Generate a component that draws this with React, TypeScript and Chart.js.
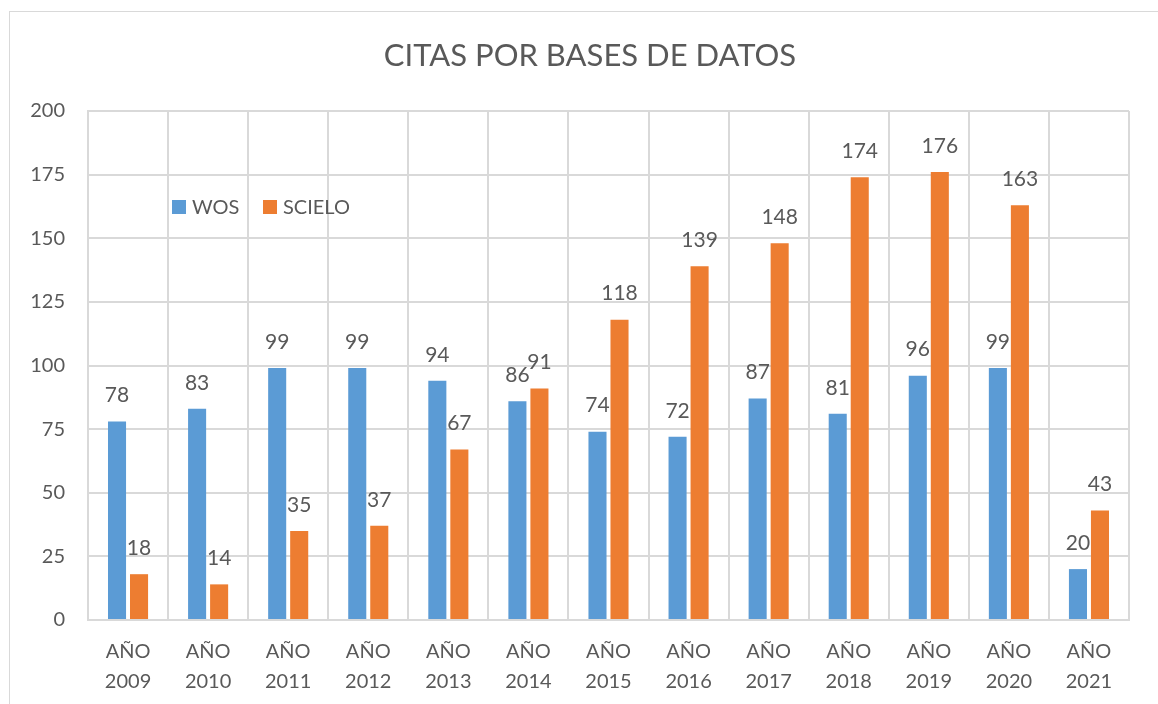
import React, { useEffect, useRef } from "react";
import { Chart, registerables } from "chart.js";

Chart.register(...registerables);

const categories = [
  ["AÑO", "2009"], ["AÑO", "2010"], ["AÑO", "2011"], ["AÑO", "2012"], ["AÑO", "2013"],
  ["AÑO", "2014"], ["AÑO", "2015"], ["AÑO", "2016"], ["AÑO", "2017"], ["AÑO", "2018"],
  ["AÑO", "2019"], ["AÑO", "2020"], ["AÑO", "2021"],
];
const wos = [78, 83, 99, 99, 94, 86, 74, 72, 87, 81, 96, 99, 20];
const scielo = [18, 14, 35, 37, 67, 91, 118, 139, 148, 174, 176, 163, 43];
const seriesNames = ["WOS", "SCIELO"];
const title = "CITAS POR BASES DE DATOS";

const BLUE = "#5B9BD5";
const ORANGE = "#ED7D31";
const TEXT = "#595959";
const GRID = "#D9D9D9";
const FONT = "Lato, 'Open Sans', sans-serif";

export default function App() {
  const ref = useRef<HTMLCanvasElement | null>(null);
  useEffect(() => {
    document.body.style.margin = "0";
    const ctx = ref.current!.getContext("2d")!;
    const overlay = {
      id: "overlay",
      afterDatasetsDraw(chart: any) {
        const c = chart.ctx;
        c.save();
        c.fillStyle = TEXT;
        c.font = `21px ${FONT}`;
        c.textAlign = "center";
        c.textBaseline = "middle";
        chart.data.datasets.forEach((ds: any, i: number) => {
          const meta = chart.getDatasetMeta(i);
          meta.data.forEach((bar: any, j: number) => {
            c.fillText(String(ds.data[j]), bar.x, bar.y - 26);
          });
        });
        // title
        c.font = `31px ${FONT}`;
        c.fillText(title, 590, 56);
        // legend
        const area = chart.chartArea;
        const ly = 207;
        c.font = `20px ${FONT}`;
        c.textAlign = "left";
        const items = [
          { x: area.left + 84, color: BLUE, label: seriesNames[0] },
          { x: area.left + 175, color: ORANGE, label: seriesNames[1] },
        ];
        items.forEach((it) => {
          c.fillStyle = it.color;
          c.fillRect(it.x, ly - 7, 14, 14);
          c.fillStyle = TEXT;
          c.fillText(it.label, it.x + 20, ly + 1);
        });
        c.restore();
      },
    };
    const chart = new Chart(ctx, {
      type: "bar",
      data: {
        labels: categories,
        datasets: [
          { label: seriesNames[0], data: wos, backgroundColor: BLUE, categoryPercentage: 0.55, barPercentage: 0.82 },
          { label: seriesNames[1], data: scielo, backgroundColor: ORANGE, categoryPercentage: 0.55, barPercentage: 0.82 },
        ],
      },
      options: {
        animation: false,
        responsive: false,
        layout: { padding: { top: 111, right: 29, left: 0, bottom: 0 } },
        plugins: { legend: { display: false }, title: { display: false }, tooltip: { enabled: false } },
        scales: {
          x: {
            grid: { color: GRID, lineWidth: 2, drawTicks: false, offset: true },
            border: { color: GRID, width: 2 },
            ticks: { color: TEXT, font: { family: FONT, size: 20, lineHeight: 1.5 }, padding: 17, maxRotation: 0 },
            afterFit(scale: any) { scale.height = 84; },
          },
          y: {
            min: 0,
            max: 200,
            grid: { color: GRID, lineWidth: 2, drawTicks: false },
            border: { color: GRID, width: 2 },
            ticks: { stepSize: 25, color: TEXT, font: { family: FONT, size: 20 }, padding: 23 },
            afterFit(scale: any) { scale.width = 88; },
          },
        },
      },
      plugins: [overlay],
    });
    return () => chart.destroy();
  }, []);
  return (
    <div style={{ position: "fixed", left: 0, top: 0, width: 1158, height: 704, overflow: "hidden", background: "#fff" }}>
      <div style={{ position: "absolute", left: 9, top: 11, width: 1300, height: 900, border: `1px solid ${GRID}` }} />
      <canvas ref={ref} width={1158} height={704} style={{ position: "absolute", left: 0, top: 0 }} />
    </div>
  );
}
